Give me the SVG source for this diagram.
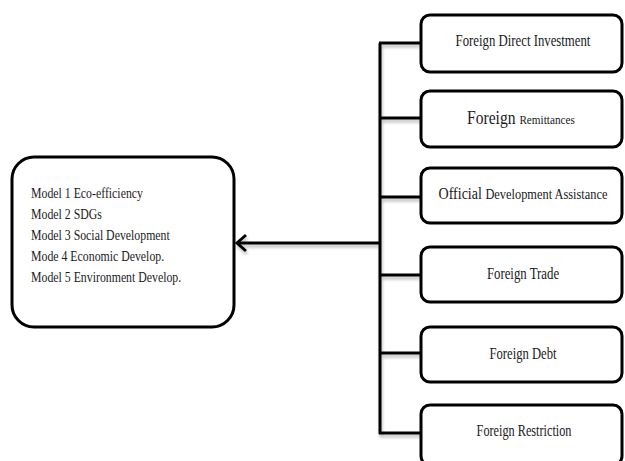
<svg xmlns="http://www.w3.org/2000/svg" width="625" height="461" viewBox="0 0 625 461">
<defs>
<filter id="sh" x="-10%" y="-10%" width="130%" height="130%">
<feDropShadow dx="1" dy="3" stdDeviation="1.5" flood-color="#000" flood-opacity="0.25"/>
</filter>
</defs>
<style>
.box{fill:#fff;stroke:#000;stroke-width:3}
text{font-family:"Liberation Serif","Times New Roman",serif;fill:#1a1a1a}
.lt{font-size:14.5px}
.rt{font-size:17px;text-anchor:middle}
.c{fill:none;stroke:#000;stroke-width:3;stroke-linejoin:miter}
</style>
<rect width="625" height="461" fill="#fff"/>
<g id="connectors" filter="url(#sh)">
<path class="c" d="M380 43 V434"/>
<path class="c" d="M379 43 H421"/>
<path class="c" d="M380 118 H421" stroke-width="5"/>
<path class="c" d="M380 197 H421"/>
<path class="c" d="M380 275 H421"/>
<path class="c" d="M380 353 H421"/>
<path class="c" d="M379 433 H421"/>
<path class="c" d="M380 243 H237"/>
<path class="c" d="M246 235 L237 243 L246 251"/>
</g>
<g id="models">
<rect class="box" x="12" y="157" width="222" height="170" rx="22"/>
<g transform="translate(31,0) scale(0.815,1)">
<text class="lt" x="0" y="198">Model 1 Eco-efficiency</text>
<text class="lt" x="0" y="219">Model 2 SDGs</text>
<text class="lt" x="0" y="240">Model 3 Social Development</text>
<text class="lt" x="0" y="261">Mode 4 Economic Develop.</text>
<text class="lt" x="0" y="282">Model 5 Environment Develop.</text>
</g>
</g>
<g id="fdi">
<rect class="box" x="421" y="15" width="201" height="57" rx="9"/>
<text class="rt" font-size="16" transform="translate(523,46) scale(0.752,1)">Foreign Direct Investment</text>
</g>
<g id="remittances">
<rect class="box" x="421" y="91" width="201" height="56" rx="9"/>
<text class="rt" transform="translate(521,124) scale(0.865,1)"><tspan font-size="18">Foreign </tspan><tspan font-size="13">Remittances</tspan></text>
</g>
<g id="oda">
<rect class="box" x="421" y="168" width="201" height="55" rx="9"/>
<text class="rt" transform="translate(523,199) scale(0.826,1)"><tspan font-size="17">Official </tspan><tspan font-size="15">Development Assistance</tspan></text>
</g>
<g id="trade">
<rect class="box" x="421" y="247" width="201" height="55" rx="9"/>
<text class="rt" transform="translate(523,279) scale(0.754,1)">Foreign Trade</text>
</g>
<g id="debt">
<rect class="box" x="421" y="327" width="201" height="55" rx="9"/>
<text class="rt" transform="translate(523,359) scale(0.743,1)">Foreign Debt</text>
</g>
<g id="restriction">
<rect class="box" x="421" y="405" width="201" height="60" rx="9"/>
<text class="rt" transform="translate(524,436) scale(0.721,1)">Foreign Restriction</text>
</g>
</svg>
